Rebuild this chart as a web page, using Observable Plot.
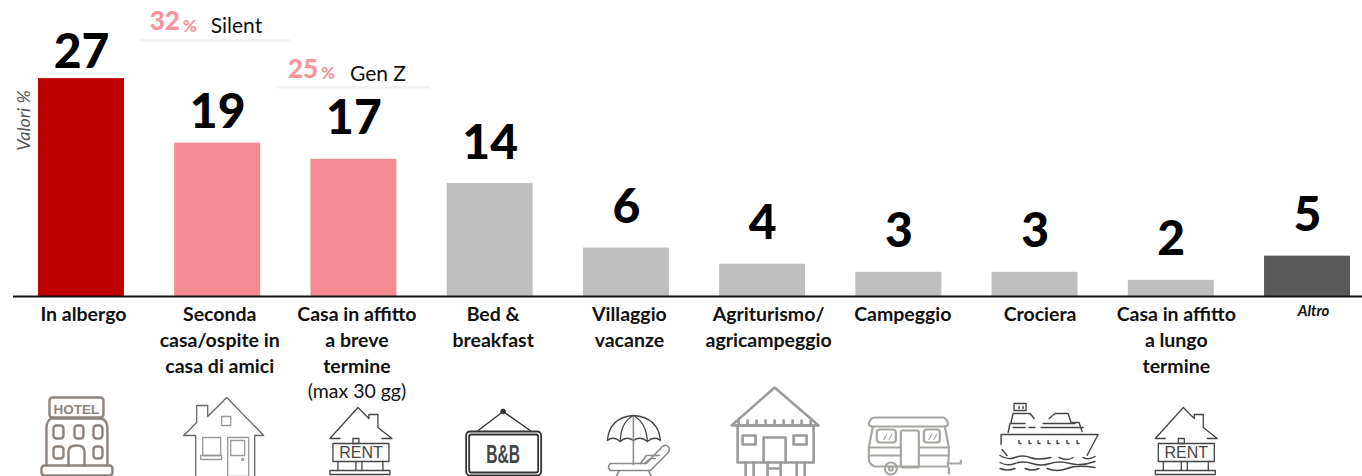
<!DOCTYPE html>
<html lang="it">
<head>
<meta charset="utf-8">
<title>Tipologia di alloggio</title>
<script src="https://cdn.jsdelivr.net/npm/d3@7"></script>
<script src="https://cdn.jsdelivr.net/npm/@observablehq/plot@0.6"></script>
<style>
html,body{margin:0;padding:0;background:#fff;overflow:hidden;}
#chart{width:1362px;height:476px;}
</style>
</head>
<body>
<div id="chart"></div>
<script>
// ---- Data ----
const categories = ["In albergo","Seconda casa/ospite in casa di amici","Casa in affitto a breve termine","Bed & breakfast","Villaggio vacanze","Agriturismo/agricampeggio","Campeggio","Crociera","Casa in affitto a lungo termine","Altro"];
const values = [27,19,17,14,6,4,3,3,2,5];
const groups = ["top","highlight","highlight","other","other","other","other","other","other","rest"];
const tickLabels = ["In albergo","Seconda\ncasa/ospite in\ncasa di amici","Casa in affitto\na breve\ntermine","Bed &\nbreakfast","Villaggio\nvacanze","Agriturismo/\nagricampeggio","Campeggio","Crociera","Casa in affitto\na lungo\ntermine","Altro"];
const calloutCategories = [categories[1], categories[2]];
const calloutValues = [32, 25];
const calloutNames = ["Silent", "Gen Z"];

// ---- Icons (each drawn in its own local viewBox, x relative to the bar centre) ----
const iconSrc = (body) => "data:image/svg+xml," + encodeURIComponent(
  `<svg xmlns="http://www.w3.org/2000/svg" viewBox="-65 0 130 96" width="130" height="96" fill="none" stroke-linecap="round" stroke-linejoin="round">${body}</svg>`);
const hotel = `<g stroke="#8d837c" stroke-width="2.4">
<rect x="-32" y="17" width="54" height="20" rx="3"/><path d="M-30 38H20Q26 40 26 48V85M-30 38Q-35 40 -35 48V85"/>
<rect x="-40" y="85" width="71" height="10" rx="3"/>
<rect x="-28" y="45" width="10" height="13" rx="3"/><rect x="-7" y="45" width="9" height="13" rx="3"/><rect x="12" y="45" width="9" height="13" rx="3"/>
<rect x="-28" y="66" width="10" height="12" rx="3"/><rect x="12" y="66" width="9" height="12" rx="3"/><path d="M-13 85V71Q-13 65 -5 65Q3 65 3 71V85"/></g>
<text x="-5" y="33" text-anchor="middle" font-family="Liberation Sans" font-weight="bold" font-size="13.5" fill="#8d837c">HOTEL</text>`;
const house = `<g stroke="#666" stroke-width="1.3"><path d="M-22 55H-34L-21 42V25H-10V36L9 17L46 55H37M-22 55V96M37 55V96"/>
<rect x="4" y="36" width="9" height="9" stroke="#999"/></g><g stroke="#999" stroke-width="1.3"><rect x="-15" y="57" width="18" height="18"/><rect x="-17" y="75" width="21" height="4"/>
<rect x="10" y="57" width="21" height="39"/><rect x="13" y="60" width="14" height="15"/><circle cx="25" cy="79" r="1"/></g>`;
const rent = (shift) => `<g transform="translate(${shift} 0)"><g stroke="#444" stroke-width="1.3"><path d="M-14 58H-24L4 27L15 38V34H24V47L38 58H28"/>
<rect x="-1" y="58" width="6" height="5"/><rect x="-21" y="63" width="56" height="18"/>
<path d="M-16 81V90M2 81V90M8 81V90M29 81V90"/><rect x="-24" y="90" width="60" height="4"/></g>
<text x="7" y="77" text-anchor="middle" font-family="Liberation Sans" font-size="16" fill="#444">RENT</text></g>`;
const bnb = `<g stroke="#333"><path d="M-12 50L13 31L40 50" stroke-width="1.4"/><circle cx="13" cy="31" r="2.4" fill="#333"/>
<rect x="-24" y="51" width="75" height="44" rx="4" stroke-width="1.8"/><rect x="-21" y="54" width="69" height="38" rx="2" stroke-width="1.8"/></g>
<text transform="translate(13 82) scale(0.6 1)" text-anchor="middle" font-family="Liberation Sans" font-weight="bold" font-size="26" fill="#444">B&amp;B</text>`;
const beach = `<g stroke="#444" stroke-width="1.3"><path d="M-19 60Q-17 37 7 35Q32 37 34 60Q28 55 21 61Q14 55 7 60Q0 55 -6 61Q-13 55 -19 60Z"/><path d="M-6 61Q-6 42 7 35Q20 42 21 61"/></g>
<path d="M7 36V84" stroke="#888" stroke-width="1.5"/>
<g stroke="#888" stroke-width="1.6"><path d="M-16 83H20L36 66Q41 63 43 68Q43 71 41 73L24 90H-16Q-20 87 -16 83Z"/><path d="M14 83L20 75H33M18 83L24 78H29M-7 90L-10 96M22 90L25 96"/></g>`;
const hut = `<g stroke="#9a9a9a" stroke-width="2.6"><path d="M-31 45L12 7L56 45Z"/>
<path d="M-25 45H51M-24 40V45M-15 40V45M-6 40V45M3 40V45M12 40V45M21 40V45M30 40V45M39 40V45M48 40V45"/>
<path d="M-25 45V82H51V45"/><rect x="-20" y="55" width="13" height="9"/><rect x="31" y="55" width="13" height="9"/><path d="M1 82V57H23V82"/>
<path d="M-17 82V96M-9 82V96M34 82V96M42 82V96M5 82V96M18 82V96M5 88H18"/></g>`;
const caravan = `<g stroke="#a6a6a0" stroke-width="2.2"><path d="M-28 46Q-32 44 -28 39Q-27 37 -24 37H44Q47 37 49 42Q50 46 46 46Z"/>
<path d="M-26 46L-30 67V78Q-30 84 -24 86H49Q50 80 50 67L46 46"/><path d="M-30 67H2M20 67H50M-30 75H2M20 75H50"/>
<rect x="2" y="50" width="18" height="37" rx="2"/><rect x="-22" y="49" width="19" height="13" rx="3"/><rect x="25" y="49" width="16" height="13" rx="3"/>
<circle cx="-8" cy="88" r="6"/><circle cx="-8" cy="88" r="2"/><path d="M49 83H62V80M50 87V93M-15 85"/>
<path d="M-15 59L-12 54M-10 59L-7 54M30 59L33 54M35 59L38 54" stroke-width="1.2"/></g>`;
const ship = `<g stroke="#444" stroke-width="1.4"><rect x="-21" y="23" width="12" height="7"/><path d="M-16 26V28M-12 26V28"/>
<path d="M-24 42L-22 33H-5L-1 38M14 38L20 33H33L36 42H44L47 51M-27 52L-25 43H-10M8 43H40"/><path d="M-22 47H-10M-6 47H0M6 47H48"/>
<path d="M-34 64V54H63L52 75M-33 69L-28 75"/>
<path d="M-16 60V63H-14M-6 60V63H-4M3 60V63H5M13 60V63H15M22 60V63H24M32 60V63H34M42 60V63H44"/>
<path d="M-35 75Q-28 80 -20 77T-5 77T16 77M24 77Q32 81 38 77M48 77Q54 80 60 76" />
<path d="M-35 82Q-28 86 -20 83T-3 83T15 83T35 83T60 81"/><path d="M-35 88Q-28 91 -20 88M-10 88Q-3 91 4 88M12 88Q22 92 32 88T60 87"/></g>`;
const icons = [hotel, house, rent(0), bnb, beach, hut, caravan, ship, rent(8)];

// ---- Tables built from the arrays ----
const rows = categories.map((c, i) => ({category: c, value: values[i], group: groups[i], label: tickLabels[i]}));
const iconRows = icons.map((body, i) => ({category: categories[i], src: iconSrc(body)}));
const labelById = new Map(categories.map((c, i) => [c, tickLabels[i]]));
const font = "Lato, Carlito, Calibri, sans-serif";
const palette = {top: "#C00000", highlight: "#F58B92", other: "#BFBFBF", rest: "#595959"};
const pink = "#F8959B";
// Vertical gap between each value label and its bar
const liftOf = (d) => d.value === 27 ? 11 : d.value === 19 ? 15 : 25;
// Horizontal nudge of each tick label off its bar centre
const tickNudge = [2, 2, 3, 3, 3, 6, 4, 5, 5];

// Each callout sits at its own height, above its bar
const callouts = calloutCategories.map((category, i) => ({category, value: values[categories.indexOf(category)], pct: calloutValues[i], name: calloutNames[i]}));
const calloutOffset = {Silent: {lift: 103, pct: -68, sign: -35, name: -7, inL: -36, inR: -30},
                       "Gen Z": {lift: 72, pct: -66, sign: -33, name: -4, inL: -34, inR: -33}};

const calloutMarks = callouts.flatMap((c) => {
  const o = calloutOffset[c.name];
  return [
    Plot.tickY([c], {x: "category", y: "value", dy: -o.lift, stroke: "#F2F2F2", strokeWidth: 2.5, insetLeft: o.inL, insetRight: o.inR}),
    Plot.text([c], {x: "category", y: "value", text: (d) => String(d.pct), dx: o.pct, dy: -o.lift - 18, textAnchor: "start", fill: pink, fontSize: 26, fontWeight: 900, fontFamily: font}),
    Plot.text([c], {x: "category", y: "value", text: () => "%", dx: o.sign, dy: -o.lift - 13.5, textAnchor: "start", fill: pink, fontSize: 17, fontWeight: 900, fontFamily: font}),
    Plot.text([c], {x: "category", y: "value", text: "name", dx: o.name, dy: -o.lift - 13.5, textAnchor: "start", fill: "#111", fontSize: 21, fontFamily: font})
  ];
});

const chart = Plot.plot({
  width: 1362,
  height: 476,
  marginLeft: 13,
  marginRight: 0,
  marginTop: 0,
  marginBottom: 180,
  style: {background: "#fff", fontFamily: font},
  x: {type: "band", domain: categories, range: [38, 1350], paddingInner: 0.369, paddingOuter: 0, round: false, axis: null},
  y: {domain: [0, 296 / 8.07], range: [296, 0], axis: null},
  marks: [
    Plot.barY(rows, {x: "category", y: "value", fill: (d) => palette[d.group]}),
    Plot.ruleY([0], {stroke: "#111", strokeWidth: 2}),
    ...[11, 15, 25].map((lift) => Plot.text(rows.filter((d) => liftOf(d) === lift), {
      x: "category", y: "value", text: (d) => String(d.value), dy: -lift, lineAnchor: "bottom",
      fontSize: 48, fontWeight: 900, fill: "#000", fontFamily: font, lineHeight: 0.82
    })),
    ...calloutMarks,
    ...tickNudge.map((dx, i) => Plot.axisX({
      ticks: [categories[i]], anchor: "bottom", label: null, tickSize: 0, tickPadding: 6, dx,
      tickFormat: (d) => labelById.get(d), lineHeight: 1.33, fontSize: 19.5, fontWeight: 700,
      fontFamily: font, fill: "#111", textOverflow: null
    })),
    Plot.text(rows.filter((d) => d.group === "rest"), {x: "category", y: 0, text: "label", dy: 15, dx: 6, fontSize: 15, fontWeight: 700, fontStyle: "italic", fill: "#111", fontFamily: font}),
    Plot.text([categories[2]], {x: (d) => d, y: 0, text: () => "(max 30 gg)", dy: 95, dx: 3, fontSize: 19.5, fill: "#111", fontFamily: font}),
    Plot.text([categories[0]], {x: (d) => d, y: 0, text: () => "Valori %", rotate: -90, dx: -57, dy: -176, fontSize: 18, fontStyle: "italic", fill: "#555", fontFamily: font}),
    Plot.image(iconRows, {x: "category", y: 0, src: "src", width: 130, height: 96, dy: 132})
  ]
});
document.getElementById("chart").appendChild(chart);
</script>
</body>
</html>
